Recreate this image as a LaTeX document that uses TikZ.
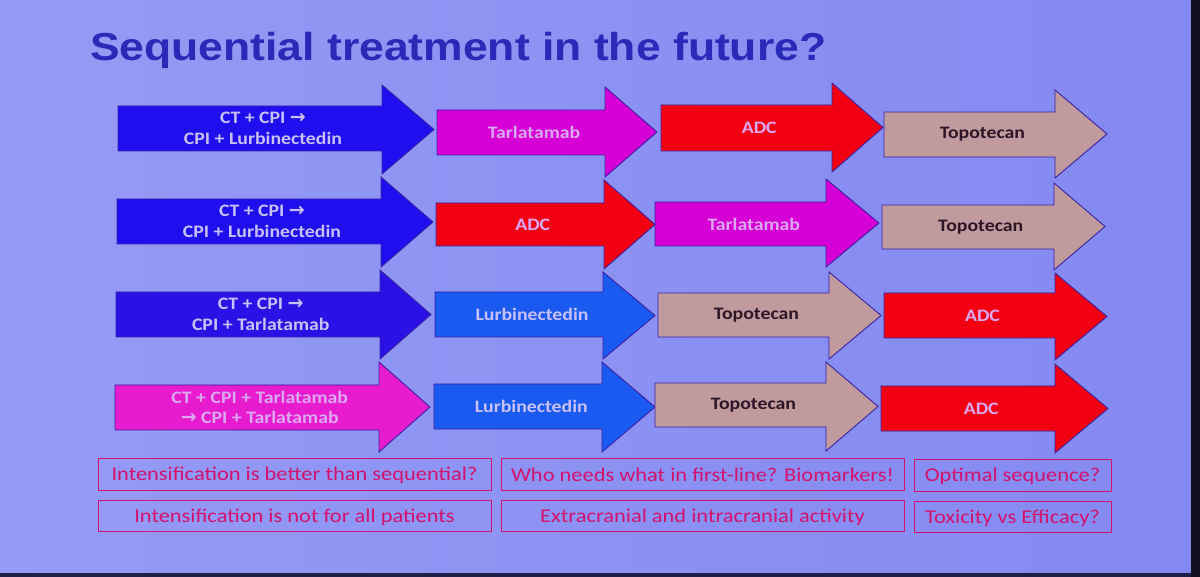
\documentclass[tikz,border=0pt]{standalone}
\usepackage{fontspec}
\setmainfont{Carlito}[FakeStretch=1.13]
\newfontfamily\boxfont{Carlito}[FakeStretch=1.15]
\newfontfamily\titlefont{Liberation Sans}[FakeStretch=1.14]
\newfontfamily\symfont{DejaVu Sans}
\definecolor{bgL}{HTML}{959BF4}
\definecolor{bgR}{HTML}{8389F0}
\definecolor{edgeC}{HTML}{10101E}
\definecolor{edgeB}{HTML}{1E1E48}
\definecolor{titleC}{HTML}{2A2AB8}
\definecolor{cBlue}{HTML}{1F0FEF}
\definecolor{cIndigo}{HTML}{2A12E6}
\definecolor{cMag}{HTML}{D600D6}
\definecolor{cPink}{HTML}{E81CCF}
\definecolor{cRed}{HTML}{F20012}
\definecolor{cTopo}{HTML}{C09A9C}
\definecolor{cLurb}{HTML}{1A5AF0}
\definecolor{outl}{HTML}{3A22A6}
\definecolor{txtBlue}{HTML}{C8C0FA}
\definecolor{txtPink}{HTML}{DDA8F2}
\definecolor{txtDark}{HTML}{2E1628}
\definecolor{qC}{HTML}{D2126E}
% #1 coordinate name, #2 fill, #3 left, #4 top, #5 bottom, #6 head base, #7 head top, #8 head bottom, #9 tip
\newcommand{\arw}[9]{%
  \filldraw[arrowshape, fill=#2] (#3,#4) -- (#6,#4) -- (#6,#7) -- (#9,{(#7+#8)/2}) -- (#6,#8) -- (#6,#5) -- (#3,#5) -- cycle;
  \coordinate (#1) at ({(#3+(#6+#9)/2)/2},{(#4+#5)/2});
}
\newcommand{\rarr}{{\symfont\fontsize{19}{20}\selectfont →}}
\begin{document}
\begin{tikzpicture}[x=1pt,y=-1pt,
  arrowshape/.style={draw=outl, line width=0.9pt, line join=miter},
  lbl/.style={inner sep=0pt, align=center, font=\bfseries\fontsize{17.5}{20.5}\selectfont},
  lblB/.style={lbl, text=txtBlue},
  lblP/.style={lbl, text=txtPink},
  lblD/.style={lbl, text=txtDark},
  qbox/.style={draw=qC, line width=1pt, text=qC, inner sep=0pt, minimum height=32pt,
    text height=15.5pt, text depth=2.5pt,
    font=\boxfont\fontsize{19.5}{21}\selectfont}]
\useasboundingbox (0,0) rectangle (1200,577);
\shade[left color=bgL, right color=bgR] (0,0) rectangle (1191,573);
\fill[edgeC] (1191,0) rectangle (1200,577);
\fill[edgeB] (0,573) rectangle (1191,577);

\node[anchor=base west, inner sep=0pt, text=titleC,
  font=\titlefont\bfseries\fontsize{39}{46}\selectfont] (title) at (90,61) {Sequential treatment in the future?};

% row 1
\arw{c11}{cBlue}{118}{106}{151}{382}{85}{174}{434}
\arw{c12}{cMag}{437}{110}{155}{605}{87}{177}{657}
\arw{c13}{cRed}{661}{105}{151}{832}{83}{172}{883}
\arw{c14}{cTopo}{884}{112}{157}{1055}{90}{178}{1107}
% row 2
\arw{c21}{cBlue}{117}{199}{244}{381}{177}{267}{433}
\arw{c22}{cRed}{436}{203}{246}{604}{180}{269}{655}
\arw{c23}{cMag}{655}{202}{246}{826}{179}{267}{879}
\arw{c24}{cTopo}{882}{205}{249}{1054}{183}{270}{1105}
% row 3
\arw{c31}{cIndigo}{116}{292}{337}{380}{270}{359}{431}
\arw{c32}{cLurb}{435}{292}{337}{603}{272}{359}{655}
\arw{c33}{cTopo}{658}{293}{337}{829}{272}{359}{881}
\arw{c34}{cRed}{884}{293}{338}{1055}{273}{360}{1107}
% row 4
\arw{c41}{cPink}{115}{385}{430}{379}{362}{452}{430}
\arw{c42}{cLurb}{434}{384}{429}{602}{362}{452}{655}
\arw{c43}{cTopo}{655}{383}{427}{826}{362}{451}{878}
\arw{c44}{cRed}{881}{386}{431}{1055}{364}{453}{1108}

\node[lblB] (t11) at (c11) {CT + CPI \rarr\\CPI + Lurbinectedin};
\node[lblP] (t12) at (c12) {Tarlatamab};
\node[lblP] (t13) at (c13) {ADC};
\node[lblD] (t14) at (c14) {Topotecan};

\node[lblB] (t21) at (c21) {CT + CPI \rarr\\CPI + Lurbinectedin};
\node[lblP] (t22) at (c22) {ADC};
\node[lblP] (t23) at (c23) {Tarlatamab};
\node[lblD] (t24) at (c24) {Topotecan};

\node[lblB] (t31) at (c31) {CT + CPI \rarr\\CPI + Tarlatamab};
\node[lblB] (t32) at (c32) {Lurbinectedin};
\node[lblD] (t33) at (c33) {Topotecan};
\node[lblP] (t34) at (c34) {ADC};

\node[lblP] (t41) at (c41) {CT + CPI + Tarlatamab\\\rarr{} CPI + Tarlatamab};
\node[lblB] (t42) at (c42) {Lurbinectedin};
\node[lblD] (t43) at (c43) {Topotecan};
\node[lblP] (t44) at (c44) {ADC};

% question boxes
\node[qbox, minimum width=393pt] (q11) at (294.5,474) {Intensification is better than sequential?};
\node[qbox, minimum width=403pt] (q12) at (702.5,474.5) {Who needs what in first-line? Biomarkers!};
\node[qbox, minimum width=197pt] (q13) at (1012.5,475) {Optimal sequence?};
\node[qbox, minimum width=393pt, minimum height=31pt] (q21) at (294.5,515.5) {Intensification is not for all patients};
\node[qbox, minimum width=403pt, minimum height=31pt] (q22) at (702.5,516) {Extracranial and intracranial activity};
\node[qbox, minimum width=197pt, minimum height=31pt] (q23) at (1012.5,516.5) {Toxicity vs Efficacy?};
\end{tikzpicture}
\end{document}
